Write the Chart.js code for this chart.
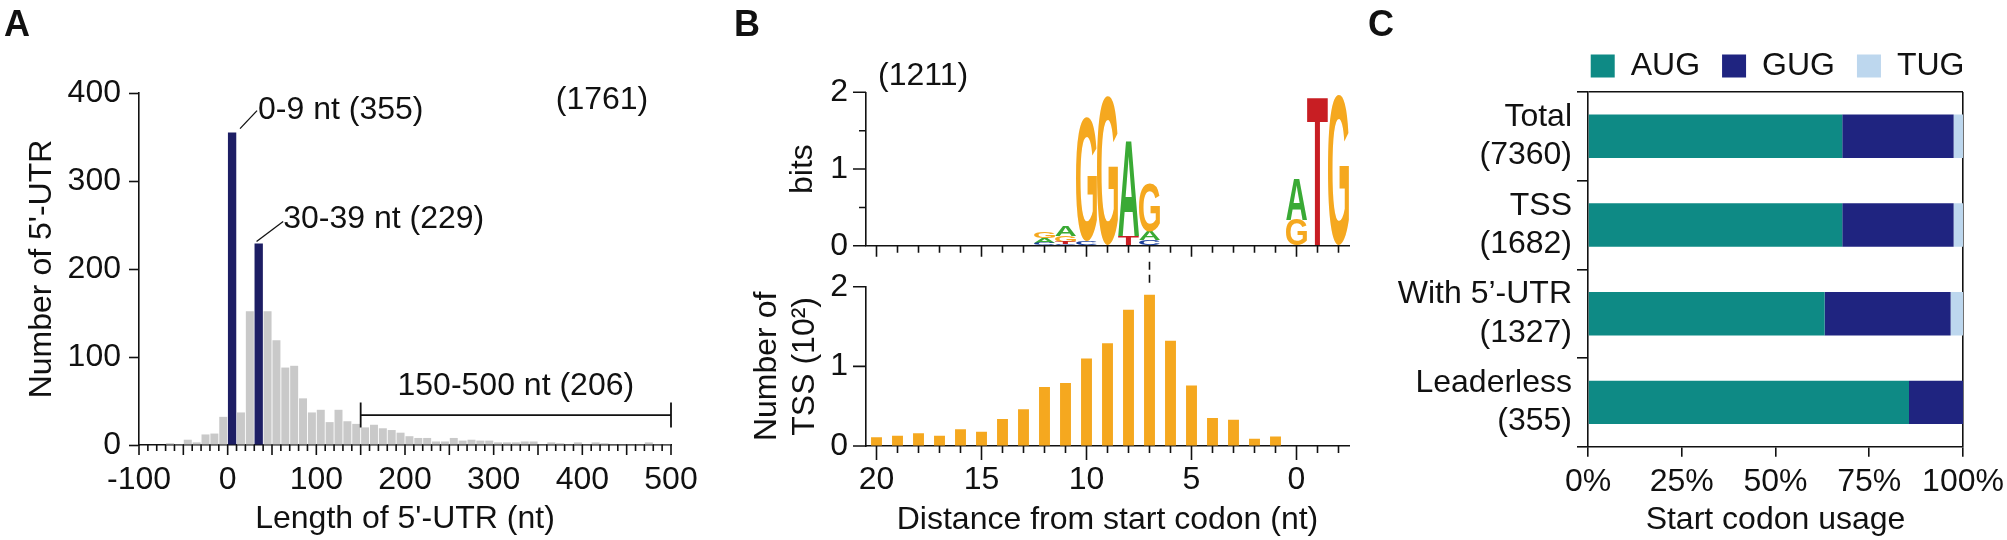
<!DOCTYPE html>
<html>
<head>
<meta charset="utf-8">
<title>5'-UTR length, SD motif and start codon usage</title>
<script src="https://cdn.jsdelivr.net/npm/chart.js@4.4.0/dist/chart.umd.min.js"></script>
<style>
  html, body { margin: 0; padding: 0; background: #fff; overflow: hidden; }
  #fig { position: relative; width: 2007px; height: 540px; }
  #fig canvas { position: absolute; }
</style>
</head>
<body>
<div id="fig">
  <canvas id="panelA" width="711" height="540" style="left:0;top:0;width:711px;height:540px"></canvas>
  <canvas id="panelBlogo" width="640" height="270" style="left:720px;top:0;width:640px;height:270px"></canvas>
  <canvas id="panelBtss" width="640" height="285" style="left:720px;top:255px;width:640px;height:285px"></canvas>
  <canvas id="panelC" width="647" height="540" style="left:1360px;top:0;width:647px;height:540px"></canvas>
</div>
<script>
// ---- A: 5'-UTR length histogram (10-nt bins, value = bin start) ----
const utrBinStart = [-100, -90, -80, -70, -60, -50, -40, -30, -20, -10,
  0, 10, 20, 30, 40, 50, 60, 70, 80, 90,
  100, 110, 120, 130, 140, 150, 160, 170, 180, 190,
  200, 210, 220, 230, 240, 250, 260, 270, 280, 290,
  300, 310, 320, 330, 340, 350, 360, 370, 380, 390,
  400, 410, 420, 430, 440, 450, 460, 470, 480, 490];
const utrCounts = [0, 0, 0, 2, 1, 6, 3, 12, 13, 32,
  0, 37, 152, 0, 152, 119, 88, 90, 53, 37,
  40, 26, 40, 27, 24, 20, 23, 19, 17, 14,
  10, 8, 8, 4, 4, 8, 5, 6, 5, 5,
  3, 3, 3, 4, 4, 1, 3, 2, 1, 3,
  1, 3, 2, 1, 1, 1, 1, 3, 1, 1];
const utrPeakStart = [0, 30];
const utrPeakCounts = [355, 229];
const utrLongRange = [150, 500];
const utrLongCount = 206;
const utrTotal = 1761;

// ---- B: SD motif logo (bits) and TSS distance ----
const logoPos = [20, 19, 18, 17, 16, 15, 14, 13, 12, 11, 10, 9, 8, 7, 6, 5, 4, 3, 2, 1, 0, -1, -2];
const logoBitsA = [0, 0, 0, 0, 0, 0, 0, 0, 0.06, 0.13, 0, 0, 1.25, 0.11, 0, 0, 0, 0, 0, 0, 0.54, 0, 0];
const logoBitsC = [0, 0, 0, 0, 0, 0, 0, 0, 0.04, 0.02, 0.06, 0, 0, 0.07, 0, 0, 0, 0, 0, 0, 0, 0, 0];
const logoBitsG = [0, 0, 0, 0, 0, 0, 0, 0, 0.09, 0.08, 1.61, 1.94, 0, 0.64, 0, 0, 0, 0, 0, 0, 0.34, 0, 1.97];
const logoBitsT = [0, 0, 0, 0, 0, 0, 0, 0, 0, 0.03, 0, 0, 0.13, 0, 0, 0, 0, 0, 0, 0, 0, 1.96, 0];
const logoSites = 1211;
const tssPos = [20, 19, 18, 17, 16, 15, 14, 13, 12, 11, 10, 9, 8, 7, 6, 5, 4, 3, 2, 1];
const tssCount = [0.11, 0.13, 0.16, 0.13, 0.21, 0.18, 0.34, 0.46, 0.74, 0.79,
  1.10, 1.29, 1.71, 1.90, 1.32, 0.76, 0.35, 0.33, 0.09, 0.12];

// ---- C: start codon usage (%) ----
const codonGroups = ['Total', 'TSS', 'With 5’-UTR', 'Leaderless'];
const codonGroupN = [7360, 1682, 1327, 355];
const augPct = [67.8, 67.8, 63.1, 85.6];
const gugPct = [29.7, 29.7, 33.6, 14.4];
const tugPct = [2.5, 2.5, 3.3, 0];

const INK = '#111';
const AXIS_W = 1.6;
const FONT = '"Liberation Sans", Arial, sans-serif';

Chart.defaults.font.family = FONT;
Chart.defaults.font.size = 32;
Chart.defaults.color = INK;
Chart.defaults.animation = false;

// tick marks with long majors and short minors
function tickMarks(id, spec) {
  return {
    id: id,
    afterDraw(chart) {
      const ctx = chart.ctx;
      ctx.save();
      ctx.strokeStyle = INK;
      ctx.lineWidth = AXIS_W;
      ctx.beginPath();
      spec.forEach(s => {
        const scale = chart.scales[s.axis];
        scale.ticks.forEach(t => {
          const q = t.value / s.major;
          const len = Math.abs(q - Math.round(q)) < 1e-6 ? s.long : s.short;
          const p = scale.getPixelForValue(t.value);
          if (scale.isHorizontal()) {
            ctx.moveTo(p, scale.top);
            ctx.lineTo(p, scale.top + len);
          } else {
            ctx.moveTo(scale.right, p);
            ctx.lineTo(scale.right - len, p);
          }
        });
      });
      ctx.stroke();
      ctx.restore();
    }
  };
}

function panelLetter(ctx, text, x, y) {
  ctx.font = 'bold 36px ' + FONT;
  ctx.fillStyle = INK;
  ctx.textAlign = 'left';
  ctx.textBaseline = 'alphabetic';
  ctx.fillText(text, x, y);
}

const axisBorder = { color: INK, width: AXIS_W };

// ================= Panel A =================
const annotateA = {
  id: 'annotateA',
  afterDraw(chart) {
    const {ctx, scales: {x, y}} = chart;
    ctx.save();
    panelLetter(ctx, 'A', 4, 36);
    ctx.font = '32px ' + FONT;
    ctx.strokeStyle = INK;
    ctx.lineWidth = 1.3;

    // leader to 0-9 nt bin
    const ax = x.getPixelForValue(utrPeakStart[0] + 10) + 3.5;
    const ay = y.getPixelForValue(utrPeakCounts[0]) - 4;
    ctx.beginPath(); ctx.moveTo(ax, ay); ctx.lineTo(ax + 17, ay - 18); ctx.stroke();
    ctx.fillText(`${utrPeakStart[0]}-${utrPeakStart[0] + 9} nt (${utrPeakCounts[0]})`, ax + 18, ay - 10);

    // leader to 30-39 nt bin
    const bx = x.getPixelForValue(utrPeakStart[1]) + 2.3;
    const by = y.getPixelForValue(utrPeakCounts[1]) - 2;
    ctx.beginPath(); ctx.moveTo(bx, by); ctx.lineTo(bx + 26.6, by - 20); ctx.stroke();
    ctx.fillText(`${utrPeakStart[1]}-${utrPeakStart[1] + 9} nt (${utrPeakCounts[1]})`, bx + 26.6, by - 13.4);

    // bracket 150-500
    const x1 = x.getPixelForValue(utrLongRange[0]);
    const x2 = x.getPixelForValue(utrLongRange[1]);
    const yb = y.getPixelForValue(34);
    ctx.lineWidth = 1.8;
    ctx.beginPath();
    ctx.moveTo(x1, yb); ctx.lineTo(x2, yb);
    ctx.moveTo(x1, yb - 12.5); ctx.lineTo(x1, yb + 12.5);
    ctx.moveTo(x2, yb - 12.5); ctx.lineTo(x2, yb + 12.5);
    ctx.stroke();
    ctx.textAlign = 'center';
    ctx.fillText(`${utrLongRange[0]}-${utrLongRange[1]} nt (${utrLongCount})`, (x1 + x2) / 2, yb - 20);

    ctx.textAlign = 'left';
    ctx.fillText(`(${utrTotal})`, x.getPixelForValue(370), y.getPixelForValue(382));
    ctx.restore();
  }
};

new Chart(document.getElementById('panelA'), {
  type: 'bar',
  data: {
    datasets: [
      {
        label: 'highlighted bins',
        data: utrPeakStart.map((s, i) => ({x: s + 5, y: utrPeakCounts[i]})),
        backgroundColor: '#1d1e64',
        grouped: false,
        barPercentage: 0.94,
        categoryPercentage: 1
      },
      {
        label: '5\'-UTR length',
        data: utrBinStart.map((s, i) => ({x: s + 5, y: utrCounts[i]})),
        backgroundColor: '#c9c9c9',
        grouped: false,
        barPercentage: 0.9,
        categoryPercentage: 1
      }
    ]
  },
  options: {
    responsive: false,
    layout: { padding: { top: 93, right: 40, left: 0, bottom: 0 } },
    plugins: { legend: { display: false }, tooltip: { enabled: false } },
    scales: {
      x: {
        type: 'linear', min: -100, max: 500, offset: false,
        border: axisBorder,
        grid: { drawOnChartArea: false, tickLength: 10, tickColor: 'transparent' },
        ticks: {
          stepSize: 10, autoSkip: false, maxRotation: 0, minRotation: 0, includeBounds: false, padding: 6,
          callback: v => (v % 100 === 0 ? v : '')
        },
        title: { display: true, text: "Length of 5'-UTR (nt)", padding: { top: 0, bottom: 2 } },
        afterFit: s => { s.height = 95; }
      },
      y: {
        min: 0, max: 400,
        border: axisBorder,
        grid: { drawOnChartArea: false, tickLength: 10, tickColor: INK, tickWidth: AXIS_W },
        ticks: { stepSize: 100, padding: 8 },
        title: { display: true, text: "Number of 5'-UTR", padding: { top: 22.8, bottom: 0 } },
        afterFit: s => { s.width = 139; }
      }
    }
  },
  plugins: [tickMarks('ticksA', [{axis: 'x', major: 50, long: 10, short: 6}]), annotateA]
});

// ================= Panel B: logo =================
const logoLetters = ['A', 'C', 'G', 'T'];
const logoBits = { A: logoBitsA, C: logoBitsC, G: logoBitsG, T: logoBitsT };
const logoColors = { A: '#3aaa35', C: '#1b3f9c', G: '#f5a81f', T: '#c81e23' };
const logoRanges = { A: [], C: [], G: [], T: [] };
logoPos.forEach((p, i) => {
  let base = 0;
  logoLetters.slice()
    .sort((a, b) => logoBits[a][i] - logoBits[b][i])
    .forEach(L => {
      const h = logoBits[L][i];
      logoRanges[L].push({ x: p, y: [base, base + h] });
      base += h;
    });
});

const logoGlyphs = {
  id: 'logoGlyphs',
  afterDatasetsDraw(chart) {
    const ctx = chart.ctx;
    ctx.save();
    ctx.font = 'bold 100px ' + FONT;
    ctx.textAlign = 'left';
    ctx.textBaseline = 'alphabetic';
    chart.data.datasets.forEach((ds, di) => {
      const m = ctx.measureText(ds.label);
      const gl = m.actualBoundingBoxLeft;
      const ga = m.actualBoundingBoxAscent;
      const gw = gl + m.actualBoundingBoxRight;
      const gh = ga + m.actualBoundingBoxDescent;
      chart.getDatasetMeta(di).data.forEach(bar => {
        const {x, y, base, width} = bar.getProps(['x', 'y', 'base', 'width'], true);
        const h = Math.abs(base - y);
        if (h < 0.6) return;
        ctx.save();
        ctx.translate(x - width / 2, Math.min(y, base));
        ctx.scale(width / gw, h / gh);
        ctx.fillStyle = ds.glyphColor;
        ctx.fillText(ds.label, gl, ga);
        ctx.restore();
      });
    });
    ctx.restore();
  }
};

const annotateBlogo = {
  id: 'annotateBlogo',
  afterDraw(chart) {
    const ctx = chart.ctx;
    ctx.save();
    panelLetter(ctx, 'B', 14, 36);
    ctx.font = '32px ' + FONT;
    ctx.fillText(`(${logoSites})`, chart.chartArea.left + 12, chart.chartArea.top - 7);
    ctx.restore();
  }
};

// integer positions 20 .. -2 on a reversed axis
function distanceAxis(extra) {
  return Object.assign({
    type: 'linear', reverse: true, min: -2.5, max: 20.5, offset: false,
    border: axisBorder,
    afterBuildTicks: s => { s.ticks = logoPos.map(v => ({ value: v })); }
  }, extra);
}

function halfBitAxis(extra) {
  return Object.assign({
    min: 0, max: 2,
    border: axisBorder,
    grid: { drawOnChartArea: false, tickLength: 13, tickColor: 'transparent' },
    ticks: { stepSize: 0.5, padding: 5, callback: v => (Number.isInteger(v) ? v : '') },
    afterFit: s => { s.width = 146; }
  }, extra);
}

new Chart(document.getElementById('panelBlogo'), {
  type: 'bar',
  data: {
    datasets: logoLetters.map(L => ({
      label: L,
      glyphColor: logoColors[L],
      data: logoRanges[L],
      backgroundColor: 'transparent',
      grouped: false,
      barPercentage: 1,
      categoryPercentage: 1
    }))
  },
  options: {
    responsive: false,
    layout: { padding: { top: 92.3, right: 11, left: 0, bottom: 0 } },
    plugins: { legend: { display: false }, tooltip: { enabled: false } },
    scales: {
      x: distanceAxis({
        grid: { drawOnChartArea: false, tickColor: 'transparent', tickLength: 11 },
        ticks: { display: false },
        afterFit: s => { s.height = 18.3; }
      }),
      y: halfBitAxis({
        title: { display: true, text: 'bits', padding: { top: 63.8, bottom: 0 } }
      })
    }
  },
  plugins: [
    tickMarks('ticksBlogo', [
      {axis: 'x', major: 5, long: 11, short: 7},
      {axis: 'y', major: 1, long: 13, short: 7}
    ]),
    logoGlyphs,
    annotateBlogo
  ]
});

// ================= Panel B: TSS distance =================
const peakIndex = tssCount.indexOf(Math.max(...tssCount));
const dashToLogo = {
  id: 'dashToLogo',
  afterDraw(chart) {
    const {ctx, scales: {x, y}} = chart;
    const px = x.getPixelForValue(tssPos[peakIndex]);
    ctx.save();
    ctx.strokeStyle = INK;
    ctx.lineWidth = 1.6;
    ctx.setLineDash([8, 5]);
    ctx.beginPath();
    ctx.moveTo(px, chart.chartArea.top - 25);
    ctx.lineTo(px, y.getPixelForValue(tssCount[peakIndex]) - 7);
    ctx.stroke();
    ctx.restore();
  }
};

new Chart(document.getElementById('panelBtss'), {
  type: 'bar',
  data: {
    datasets: [{
      label: 'TSS',
      data: tssPos.map((p, i) => ({x: p, y: tssCount[i]})),
      backgroundColor: '#f5a81f',
      barPercentage: 0.52,
      categoryPercentage: 1
    }]
  },
  options: {
    responsive: false,
    layout: { padding: { top: 31.7, right: 11, left: 0, bottom: 0 } },
    plugins: { legend: { display: false }, tooltip: { enabled: false } },
    scales: {
      x: distanceAxis({
        grid: { drawOnChartArea: false, tickColor: 'transparent', tickLength: 14 },
        ticks: {
          autoSkip: false, maxRotation: 0, minRotation: 0, padding: 1,
          callback: v => (Math.round(v) % 5 === 0 ? Math.round(v) : '')
        },
        title: { display: true, text: 'Distance from start codon (nt)', padding: { top: 0, bottom: 0.8 } },
        afterFit: s => { s.height = 94; }
      }),
      y: halfBitAxis({
        title: { display: true, text: ['Number of', 'TSS (10²)'], padding: { top: 27.8, bottom: 0 } }
      })
    }
  },
  plugins: [
    tickMarks('ticksBtss', [
      {axis: 'x', major: 5, long: 14, short: 7},
      {axis: 'y', major: 1, long: 13, short: 7}
    ]),
    dashToLogo
  ]
});

// ================= Panel C =================
const letterC = {
  id: 'letterC',
  afterDraw(chart) {
    const ctx = chart.ctx;
    ctx.save();
    panelLetter(ctx, 'C', 8, 36);
    ctx.restore();
  }
};

new Chart(document.getElementById('panelC'), {
  type: 'bar',
  data: {
    labels: codonGroups.map((g, i) => [g, `(${codonGroupN[i]})`]),
    datasets: [
      { label: 'AUG', data: augPct, backgroundColor: '#0e8a85' },
      { label: 'GUG', data: gugPct, backgroundColor: '#1f2480' },
      { label: 'TUG', data: tugPct, backgroundColor: '#bdd7ee' }
    ]
  },
  options: {
    indexAxis: 'y',
    responsive: false,
    datasets: { bar: { barPercentage: 0.49, categoryPercentage: 1, borderWidth: 0 } },
    layout: { padding: { top: 28, right: 20.5, left: 0, bottom: 0 } },
    plugins: {
      legend: {
        position: 'top', align: 'end', fullSize: true,
        labels: { boxWidth: 24, boxHeight: 23, padding: 22, color: INK, font: { size: 32 } }
      },
      tooltip: { enabled: false }
    },
    scales: {
      x: {
        stacked: true, min: 0, max: 100,
        border: axisBorder,
        grid: {
          color: c => (c.tick && c.tick.value === 100 ? INK : 'transparent'),
          lineWidth: AXIS_W, tickColor: INK, tickWidth: AXIS_W, tickLength: 10
        },
        ticks: { stepSize: 25, padding: 6, maxRotation: 0, callback: v => v + '%' },
        title: { display: true, text: 'Start codon usage', padding: { top: 0, bottom: 0.8 } },
        afterFit: s => { s.height = 93.3; s.paddingRight = 44; }
      },
      y: {
        stacked: true,
        border: axisBorder,
        grid: {
          offset: true,
          color: c => (c.index === 0 ? INK : 'transparent'),
          lineWidth: AXIS_W, tickColor: INK, tickWidth: AXIS_W, tickLength: 11
        },
        ticks: { padding: 5 },
        afterFit: s => { s.width = 228; }
      }
    }
  },
  plugins: [letterC]
});
</script>
</body>
</html>
